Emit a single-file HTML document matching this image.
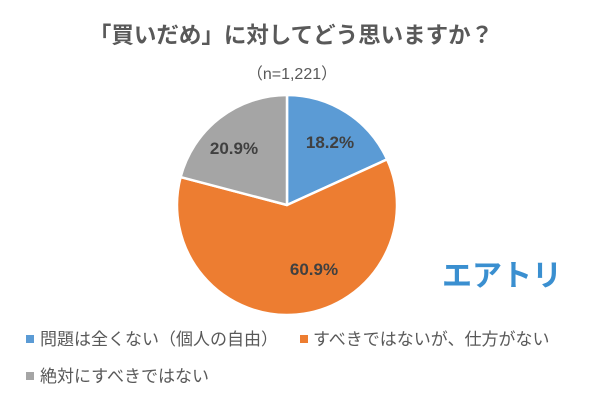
<!DOCTYPE html><html><head><meta charset="utf-8"><style>
body{margin:0;width:600px;height:400px;background:#fff;overflow:hidden;font-family:"Liberation Sans","Noto Sans CJK JP",sans-serif;}
</style></head><body>
<svg width="600" height="400" xmlns="http://www.w3.org/2000/svg" style="font-family:'Liberation Sans','Noto Sans CJK JP',sans-serif">
<text x="291" y="43" text-anchor="middle" font-size="22.5" font-weight="bold" fill="#595959">「買いだめ」に対してどう思いますか？</text>
<text x="292" y="79" text-anchor="middle" font-size="16" fill="#595959">（n=1,221）</text>
<g stroke="#fff" stroke-width="2.5" stroke-linejoin="round">
<path d="M287,205 L287,95 A110,110 0 0 1 387.1,159.4 Z" fill="#5b9bd5"/>
<path d="M287,205 L387.1,159.4 A110,110 0 1 1 180.6,177.1 Z" fill="#ed7d31"/>
<path d="M287,205 L180.6,177.1 A110,110 0 0 1 287,95 Z" fill="#a5a5a5"/>
</g>
<g font-size="17" font-weight="bold" fill="#404040" text-anchor="middle">
<text x="330" y="148">18.2%</text>
<text x="234" y="154">20.9%</text>
<text x="314" y="275">60.9%</text>
</g>
<text x="502" y="286" text-anchor="middle" font-size="30" font-weight="bold" fill="#3a8fd0">エアトリ</text>
<g font-size="17" fill="#595959">
<rect x="26" y="335" width="8" height="8" fill="#5b9bd5"/><text x="40" y="345">問題は全くない（個人の自由）</text>
<rect x="300" y="335" width="8" height="8" fill="#ed7d31"/><text x="313" y="345">すべきではないが、仕方がない</text>
<rect x="26" y="372" width="8" height="8" fill="#a5a5a5"/><text x="40" y="382">絶対にすべきではない</text>
</g>
</svg>
</body></html>
